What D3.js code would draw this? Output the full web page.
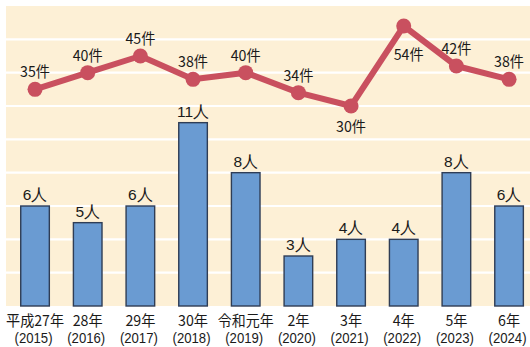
<!DOCTYPE html>
<html>
<head>
<meta charset="utf-8">
<script src="https://cdn.jsdelivr.net/npm/d3@7"></script>
<style>
  html, body { margin: 0; padding: 0; background: #ffffff; }
  svg { display: block; }
</style>
</head>
<body>
<svg id="chart" width="530" height="347"></svg>
<script>
// Fiscal years (Japanese era label + western year)
const eraLabels = ["平成27年", "28年", "29年", "30年", "令和元年", "2年", "3年", "4年", "5年", "6年"];
const yearLabels = ["(2015)", "(2016)", "(2017)", "(2018)", "(2019)", "(2020)", "(2021)", "(2022)", "(2023)", "(2024)"];

// Persons (bars) and cases (line)
const persons = [6, 5, 6, 11, 8, 3, 4, 4, 8, 6];
const cases = [35, 40, 45, 38, 40, 34, 30, 54, 42, 38];

// Label placement for the case line: "above" or "below" the point
const caseLabelSide = ["above", "above", "above", "above", "above", "above", "below", "below", "above", "above"];

const svg = d3.select("#chart");
const plot = { left: 6, right: 530, top: 6, bottom: 306 };

const x = d3.scaleBand()
  .domain(d3.range(persons.length))
  .range([8.7, 535.4])
  .paddingInner(0.457)
  .paddingOuter(0.2285);

const yBar = d3.scaleLinear().domain([0, 18]).range([plot.bottom, plot.top]);
const yLine = d3.scaleLinear().domain([0, 60]).range([yBar(6), yBar(18)]);

const cx = i => x(i) + x.bandwidth() / 2;

// Condensed width for mixed digit / kanji labels
const labelWidth = s => Array.from(s).reduce((w, ch) => w + (/[0-9]/.test(ch) ? 8 : 14), 0);

// Background panel
svg.append("rect")
  .attr("x", plot.left).attr("y", plot.top)
  .attr("width", plot.right - plot.left).attr("height", plot.bottom - plot.top)
  .attr("fill", "#fdf0d6");

// White horizontal gridlines every 2 persons
svg.append("g")
  .selectAll("line")
  .data(d3.range(2, 18, 2))
  .join("line")
  .attr("x1", plot.left).attr("x2", plot.right)
  .attr("y1", d => yBar(d)).attr("y2", d => yBar(d))
  .attr("stroke", "#ffffff").attr("stroke-width", 2.2);

// Bars
svg.append("g")
  .selectAll("rect")
  .data(persons)
  .join("rect")
  .attr("x", (d, i) => x(i))
  .attr("y", d => yBar(d))
  .attr("width", x.bandwidth())
  .attr("height", d => yBar(0) - yBar(d))
  .attr("fill", "#6a9bd2")
  .attr("stroke", "#2f3d55")
  .attr("stroke-width", 1.4);

// Bar value labels
svg.append("g")
  .selectAll("text")
  .data(persons)
  .join("text")
  .attr("x", (d, i) => cx(i))
  .attr("y", d => yBar(d) - 6)
  .attr("text-anchor", "middle")
  .attr("font-family", "Liberation Sans, Arial, sans-serif")
  .attr("font-size", 15.5)
  .attr("fill", "#1a1a1a")
  .text(d => d + "人");

// Case line
const line = d3.line().x((d, i) => cx(i)).y(d => yLine(d));
svg.append("path")
  .datum(cases)
  .attr("d", line)
  .attr("fill", "none")
  .attr("stroke", "#c9505f")
  .attr("stroke-width", 6)
  .attr("stroke-linejoin", "round");

svg.append("g")
  .selectAll("circle")
  .data(cases)
  .join("circle")
  .attr("cx", (d, i) => cx(i))
  .attr("cy", d => yLine(d))
  .attr("r", 7.5)
  .attr("fill", "#c9505f");

// Case labels
svg.append("g")
  .selectAll("text")
  .data(cases)
  .join("text")
  .attr("x", (d, i) => cx(i) + (caseLabelSide[i] === "below" && d > 50 ? 5 : 0))
  .attr("y", (d, i) => caseLabelSide[i] === "above" ? yLine(d) - 12 : yLine(d) + (d > 50 ? 34 : 26))
  .attr("text-anchor", "middle")
  .attr("font-family", "Noto Sans CJK JP, sans-serif")
  .attr("font-size", 15)
  .attr("textLength", 30)
  .attr("lengthAdjust", "spacingAndGlyphs")
  .attr("fill", "#1a1a1a")
  .text(d => d + "件");

// Category axis labels (two lines)
const axis = svg.append("g");
axis.selectAll("text.era")
  .data(eraLabels)
  .join("text")
  .attr("class", "era")
  .attr("x", (d, i) => cx(i))
  .attr("y", 325.5)
  .attr("text-anchor", "middle")
  .attr("font-family", "Noto Sans CJK JP, sans-serif")
  .attr("font-size", 15)
  .attr("textLength", d => labelWidth(d))
  .attr("lengthAdjust", "spacingAndGlyphs")
  .attr("fill", "#1a1a1a")
  .text(d => d);

axis.selectAll("text.yr")
  .data(yearLabels)
  .join("text")
  .attr("class", "yr")
  .attr("x", (d, i) => cx(i) - 1.5)
  .attr("y", 343)
  .attr("text-anchor", "middle")
  .attr("font-family", "Liberation Sans Narrow, Liberation Sans, sans-serif")
  .attr("font-size", 14.5)
  .attr("textLength", 38)
  .attr("lengthAdjust", "spacingAndGlyphs")
  .attr("fill", "#1a1a1a")
  .text(d => d);
</script>
</body>
</html>
